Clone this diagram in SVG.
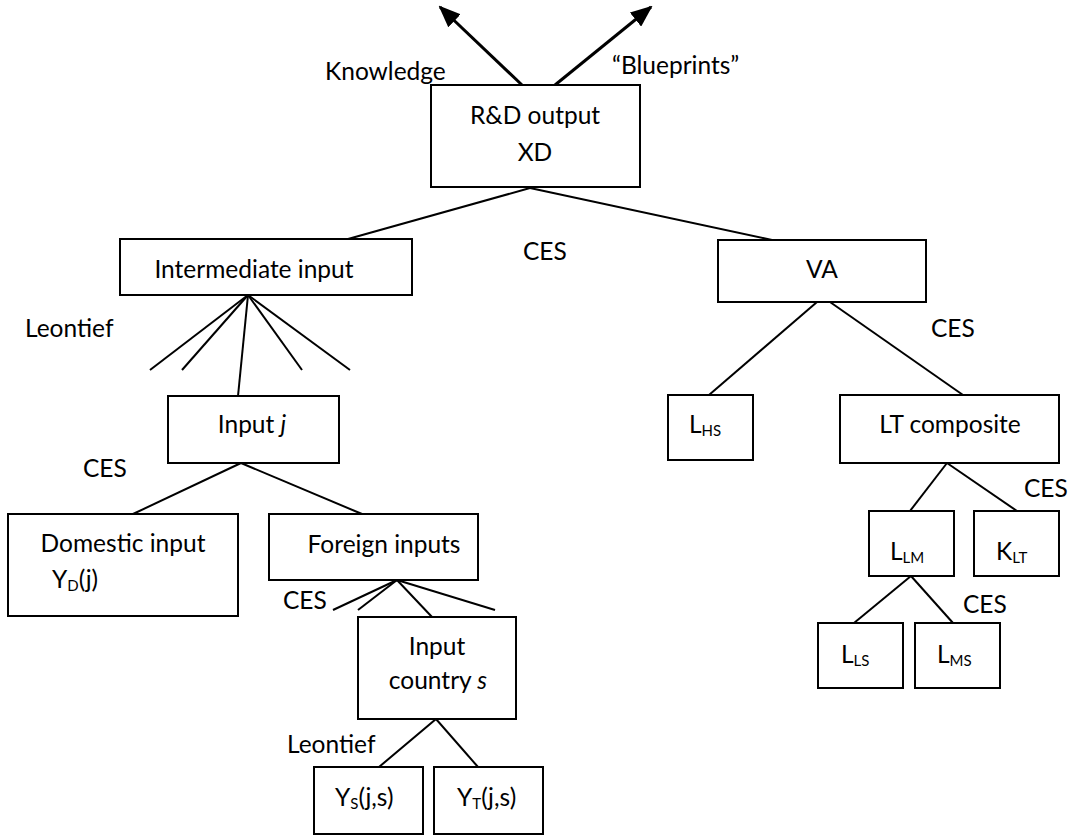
<svg xmlns="http://www.w3.org/2000/svg" width="1068" height="836" viewBox="0 0 1068 836">
<style>
.box{fill:#fff;stroke:#000;stroke-width:2}
.ln{stroke:#000;stroke-width:2;fill:none}
.ar{stroke:#000;stroke-width:3;fill:none}
text{font-family:Lato,"Open Sans",sans-serif;font-size:24.5px;fill:#000}
.m{text-anchor:middle}
.sub{font-size:15px}
</style>
<defs>
<marker id="ah" markerUnits="userSpaceOnUse" markerWidth="22" markerHeight="18" refX="20" refY="9" orient="auto">
<path d="M0,0 L22,9 L0,18 z" fill="#000"/>
</marker>
</defs>
<rect width="1068" height="836" fill="#fff"/>
<g id="connectors">
<line class="ar" x1="522" y1="85" x2="440" y2="7" marker-end="url(#ah)"/>
<line class="ar" x1="555" y1="85" x2="651" y2="7" marker-end="url(#ah)"/>
<line class="ln" x1="530" y1="188" x2="348" y2="239"/>
<line class="ln" x1="530" y1="188" x2="772" y2="240"/>
<line class="ln" x1="248" y1="295" x2="150" y2="370"/>
<line class="ln" x1="248" y1="295" x2="182" y2="370"/>
<line class="ln" x1="248" y1="295" x2="238" y2="396"/>
<line class="ln" x1="248" y1="295" x2="302" y2="370"/>
<line class="ln" x1="248" y1="295" x2="350" y2="370"/>
<line class="ln" x1="241" y1="463" x2="133" y2="514"/>
<line class="ln" x1="241" y1="463" x2="362" y2="514"/>
<line class="ln" x1="397" y1="580" x2="333" y2="610"/>
<line class="ln" x1="397" y1="580" x2="358" y2="610"/>
<line class="ln" x1="397" y1="580" x2="432" y2="617"/>
<line class="ln" x1="397" y1="580" x2="495" y2="610"/>
<line class="ln" x1="436" y1="719" x2="379" y2="767"/>
<line class="ln" x1="436" y1="719" x2="478" y2="767"/>
<line class="ln" x1="817" y1="302" x2="709" y2="395"/>
<line class="ln" x1="830" y1="302" x2="963" y2="395"/>
<line class="ln" x1="947" y1="463" x2="910" y2="511"/>
<line class="ln" x1="947" y1="463" x2="1017" y2="511"/>
<line class="ln" x1="911" y1="576" x2="854" y2="623"/>
<line class="ln" x1="911" y1="576" x2="953" y2="623"/>
</g>
<g id="labels">
<text x="325" y="80">Knowledge</text>
<text x="612" y="74">“Blueprints”</text>
<text x="523" y="260">CES</text>
<text x="25" y="337">Leontief</text>
<text x="83" y="477">CES</text>
<text x="283" y="609">CES</text>
<text x="287" y="753">Leontief</text>
<text x="931" y="337">CES</text>
<text x="1024" y="497">CES</text>
<text x="963" y="613">CES</text>
</g>
<g id="rd"><rect class="box" x="431" y="85" width="209" height="102"/><text class="m" x="535" y="124">R&amp;D output</text><text class="m" x="535" y="161">XD</text></g>
<g id="intermediate"><rect class="box" x="120" y="239" width="292" height="56"/><text class="m" x="254" y="278">Intermediate input</text></g>
<g id="inputj"><rect class="box" x="168" y="396" width="171" height="67"/><text class="m" x="252" y="433">Input <tspan font-style="italic">j</tspan></text></g>
<g id="domestic"><rect class="box" x="8" y="514" width="230" height="102"/><text class="m" x="123" y="552">Domestic input</text><text x="52" y="588">Y<tspan class="sub" dy="3">D</tspan><tspan dy="-3">(j)</tspan></text></g>
<g id="foreign"><rect class="box" x="269" y="514" width="209" height="66"/><text class="m" x="384" y="553">Foreign inputs</text></g>
<g id="country"><rect class="box" x="358" y="617" width="158" height="102"/><text class="m" x="437" y="655">Input</text><text class="m" x="438" y="689">country <tspan font-style="italic">s</tspan></text></g>
<g id="ys"><rect class="box" x="314" y="767" width="109" height="67"/><text x="335" y="806">Y<tspan class="sub" dy="3">S</tspan><tspan dy="-3">(j,s)</tspan></text></g>
<g id="yt"><rect class="box" x="434" y="767" width="109" height="67"/><text x="457" y="806">Y<tspan class="sub" dy="3">T</tspan><tspan dy="-3">(j,s)</tspan></text></g>
<g id="va"><rect class="box" x="718" y="240" width="208" height="62"/><text class="m" x="822" y="278">VA</text></g>
<g id="lhs"><rect class="box" x="668" y="395" width="85" height="65"/><text x="689" y="433">L<tspan class="sub" dy="3">HS</tspan></text></g>
<g id="lt"><rect class="box" x="840" y="395" width="219" height="68"/><text class="m" x="950" y="433">LT composite</text></g>
<g id="llm"><rect class="box" x="869" y="511" width="85" height="65"/><text x="890" y="560">L<tspan class="sub" dy="3">LM</tspan></text></g>
<g id="klt"><rect class="box" x="974" y="511" width="85" height="65"/><text x="996" y="560">K<tspan class="sub" dy="3">LT</tspan></text></g>
<g id="lls"><rect class="box" x="818" y="623" width="85" height="65"/><text x="841" y="663">L<tspan class="sub" dy="3">LS</tspan></text></g>
<g id="lms"><rect class="box" x="915" y="623" width="85" height="65"/><text x="937" y="663">L<tspan class="sub" dy="3">MS</tspan></text></g>
</svg>
